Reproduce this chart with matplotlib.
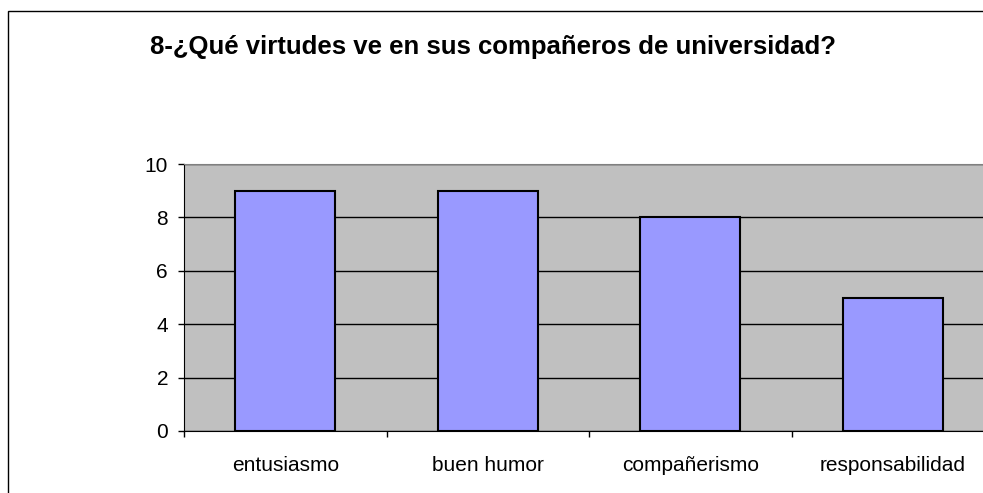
import matplotlib.pyplot as plt
from matplotlib.patches import Rectangle

categorias = ["entusiasmo", "buen humor", "compañerismo", "responsabilidad"]
valores = [9, 9, 8, 5]
titulo = "8-¿Qué virtudes ve en sus compañeros de universidad?"

plt.rcParams["font.family"] = ["Liberation Sans", "DejaVu Sans"]

fig = plt.figure(figsize=(9.83, 4.93), dpi=100)
ax = fig.add_axes([184 / 983, 1 - 431 / 493, 1 - 184 / 983, (431 - 164) / 493])

# marco exterior del grafico (cortado a la derecha y abajo)
fig.patches.append(Rectangle((8 / 983, -0.1), 1.2, 1.1 - 11 / 493,
                             transform=fig.transFigure, fill=False,
                             edgecolor="black", linewidth=1.0, zorder=0))

pos = list(range(len(categorias)))
ax.set_facecolor("#C0C0C0")
ax.bar(pos, valores, width=0.495, color="#9999FF", edgecolor="black",
       linewidth=1.5, zorder=3)

ax.set_ylim(0, 10)
ax.set_yticks([0, 2, 4, 6, 8, 10])
ax.yaxis.grid(True, color="black", linewidth=1.0, zorder=1)
ax.set_axisbelow(True)

ax.set_xticks([-0.5, 0.5, 1.5, 2.5, 3.5])
ax.set_xticklabels([])
ax.set_xticks(pos, minor=True)
ax.set_xticklabels(categorias, minor=True, fontsize=15)
ax.set_xlim(-0.5, -0.5 + (983 - 184) / 202.5)
ax.tick_params(axis="x", which="minor", length=0, pad=18)
ax.tick_params(axis="x", which="major", length=4.5, width=1, direction="out")
ax.tick_params(axis="y", labelsize=15, length=4.5, width=1, pad=7,
               direction="out")

ax.spines["top"].set_color("#808080")
ax.spines["right"].set_visible(False)
ax.spines["left"].set_color("black")
ax.spines["bottom"].set_color("black")

fig.text(493 / 983, 1 - 47 / 493, titulo, ha="center", va="center",
         fontsize=18.5, fontweight="bold")

plt.savefig("out.png", dpi=100)
